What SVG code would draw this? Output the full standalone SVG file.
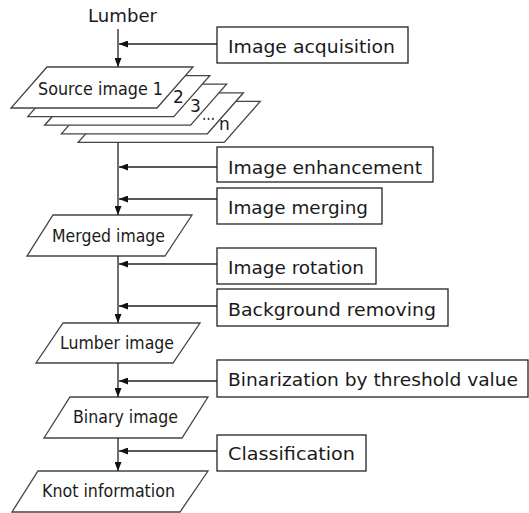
<svg xmlns="http://www.w3.org/2000/svg" width="529" height="513" viewBox="0 0 529 513">
<defs>
<style>
text{font-family:"DejaVu Sans","Liberation Sans",sans-serif;font-size:17px;fill:#1a1a1a}
.box{fill:#fff;stroke:#222;stroke-width:1.3}
.para{fill:#fff;stroke:#444;stroke-width:1.3}
.ln{fill:none;stroke:#222;stroke-width:1.3}
</style>
<marker id="ah" viewBox="0 0 9 7" refX="9" refY="3.5" markerWidth="9" markerHeight="7" markerUnits="userSpaceOnUse" orient="auto">
<path d="M0,0 L9,3.5 L0,7 z" fill="#111"/>
</marker>
</defs>
<rect width="529" height="513" fill="#fff"/>

<g id="lumber"><text x="88" y="22" textLength="69" lengthAdjust="spacingAndGlyphs">Lumber</text></g>

<g id="source-images">
<polygon class="para" points="114.2,101.4 260.2,101.4 224.2,142.4 78.2,142.4"/>
<polygon class="para" points="97.4,92.8 243.4,92.8 207.4,133.8 61.4,133.8"/>
<polygon class="para" points="80.6,84.2 226.6,84.2 190.6,125.2 44.6,125.2"/>
<polygon class="para" points="63.8,75.6 209.8,75.6 173.8,116.6 27.8,116.6"/>
<polygon class="para" points="47,67 193,67 157,108 11,108"/>
<text x="38" y="95" textLength="125" lengthAdjust="spacingAndGlyphs">Source image 1</text>
<text x="173" y="103">2</text>
<text x="190" y="112">3</text>
<text x="202" y="120" textLength="13" lengthAdjust="spacingAndGlyphs" font-size="12">…</text>
<text x="219" y="130">n</text>
</g>

<g id="merged"><polygon class="para" points="53,215 192,215 165,256 27,256"/>
<text x="52" y="242" textLength="113" lengthAdjust="spacingAndGlyphs">Merged image</text></g>

<g id="lumber-image"><polygon class="para" points="63,323 200,323 173,363 36,363"/>
<text x="60" y="349" textLength="114" lengthAdjust="spacingAndGlyphs">Lumber image</text></g>

<g id="binary-image"><polygon class="para" points="70,397 208,397 182,438 44,438"/>
<text x="73" y="423" textLength="105" lengthAdjust="spacingAndGlyphs">Binary image</text></g>

<g id="knot-information"><polygon class="para" points="38,471 208,471 180,512 12,512"/>
<text x="42" y="497" textLength="133" lengthAdjust="spacingAndGlyphs">Knot information</text></g>

<g id="acquisition"><rect class="box" x="217" y="27" width="191" height="36"/>
<text x="228" y="53" textLength="167" lengthAdjust="spacingAndGlyphs">Image acquisition</text></g>
<g id="enhancement"><rect class="box" x="217" y="147" width="216" height="35"/>
<text x="228" y="174" textLength="194" lengthAdjust="spacingAndGlyphs">Image enhancement</text></g>
<g id="merging"><rect class="box" x="217" y="188" width="165" height="36"/>
<text x="228" y="214" textLength="140" lengthAdjust="spacingAndGlyphs">Image merging</text></g>
<g id="rotation"><rect class="box" x="217" y="248" width="159" height="36"/>
<text x="228" y="274" textLength="136" lengthAdjust="spacingAndGlyphs">Image rotation</text></g>
<g id="background"><rect class="box" x="217" y="289" width="231" height="37"/>
<text x="228" y="316" textLength="208" lengthAdjust="spacingAndGlyphs">Background removing</text></g>
<g id="binarization"><rect class="box" x="217" y="360" width="311" height="37"/>
<text x="228" y="386" textLength="290" lengthAdjust="spacingAndGlyphs">Binarization by threshold value</text></g>
<g id="classification"><rect class="box" x="217" y="435" width="149" height="36"/>
<text x="228" y="460" textLength="127" lengthAdjust="spacingAndGlyphs">Classification</text></g>

<g id="connectors">
<line class="ln" x1="118" y1="29" x2="118" y2="67" marker-end="url(#ah)"/>
<line class="ln" x1="118" y1="142.4" x2="118" y2="215" marker-end="url(#ah)"/>
<line class="ln" x1="118" y1="256" x2="118" y2="323" marker-end="url(#ah)"/>
<line class="ln" x1="118" y1="363" x2="118" y2="397" marker-end="url(#ah)"/>
<line class="ln" x1="118" y1="438" x2="118" y2="471" marker-end="url(#ah)"/>
<line class="ln" x1="217" y1="44" x2="119" y2="44" marker-end="url(#ah)"/>
<line class="ln" x1="217" y1="167" x2="119" y2="167" marker-end="url(#ah)"/>
<line class="ln" x1="217" y1="199" x2="119" y2="199" marker-end="url(#ah)"/>
<line class="ln" x1="217" y1="264" x2="119" y2="264" marker-end="url(#ah)"/>
<line class="ln" x1="217" y1="306" x2="119" y2="306" marker-end="url(#ah)"/>
<line class="ln" x1="217" y1="381" x2="119" y2="381" marker-end="url(#ah)"/>
<line class="ln" x1="217" y1="451" x2="119" y2="451" marker-end="url(#ah)"/>
</g>
</svg>
